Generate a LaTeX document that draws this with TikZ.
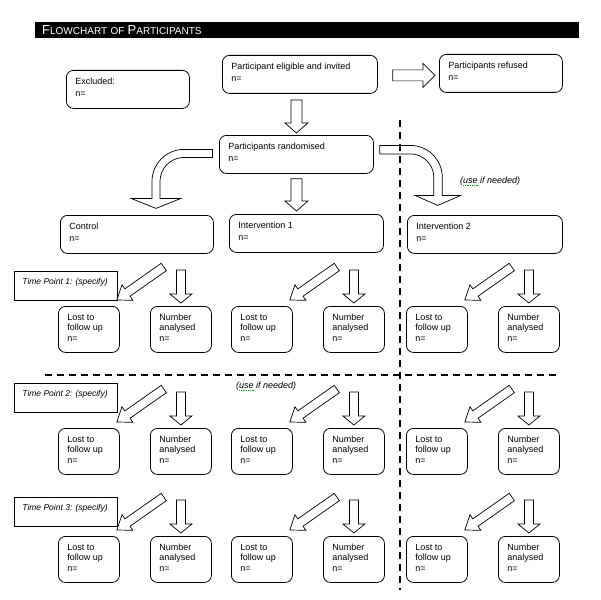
\documentclass[tikz,border=0pt]{standalone}
\usepackage{fontspec}
\setmainfont{Liberation Sans}
\usetikzlibrary{calc}

\newcommand{\versal}[1]{{\fontsize{10}{10}\selectfont #1}}
% flecha gruesa: cola, punta, medio cuerpo, media cabeza, largo cabeza
\newcommand{\flechagorda}[5]{%
  \coordinate (fg) at ($(#2)!#5!(#1)$);
  \draw[flecha] ($(#1)!#3!90:(#2)$) -- ($(fg)!#3!90:(#2)$) -- ($(fg)!#4!90:(#2)$) -- (#2)
    -- ($(fg)!#4!-90:(#2)$) -- ($(fg)!#3!-90:(#2)$) -- ($(#1)!#3!-90:(#2)$) -- cycle;}

\tikzset{
  caja/.style={draw, rounded corners=7pt, line width=0.8pt, anchor=north west,
    inner xsep=9pt, inner ysep=7.5pt, font=\fontsize{9}{10}\selectfont},
  etiqueta/.style={draw, line width=0.8pt, anchor=north west, inner xsep=8pt,
    inner ysep=6.5pt, font=\fontsize{8.5}{10}\selectfont\itshape},
  titulo/.style={fill=black, text=white, anchor=north west, inner xsep=7pt,
    inner ysep=0pt, text width=530pt, minimum height=16pt},
  flecha/.style={draw, fill=white, line width=0.7pt, line join=miter},
  corte/.style={line width=2pt, dash pattern=on 7pt off 5pt},
  nota/.style={anchor=west, inner sep=0pt, font=\fontsize{9}{10}\selectfont\itshape}
}

\begin{document}
\begin{tikzpicture}[x=1pt, y=-1pt]
    \useasboundingbox (0,0) rectangle (601,599);
    % Titulo
    \node[titulo] (titulo) at (35,22) {\fontsize{13}{13}\selectfont F\versal{LOWCHART OF }P\versal{ARTICIPANTS}};
    % Cajas de arriba
    \node[caja] (excl) at (66,70) {\parbox[c][23pt][t]{105pt}{Excluded:\\[2pt]n=}};
    \node[caja] (elig) at (222,55) {\parbox[c][23pt][t]{137pt}{Participant eligible and invited\\[2pt]n=}};
    \node[caja] (refus) at (439,54) {\parbox[c][23pt][t]{105pt}{Participants refused\\[2pt]n=}};
    \node[caja] (rand) at (219,135) {\parbox[c][23pt][t]{136pt}{Participants randomised\\[2pt]n=}};
    % Grupos
    \node[caja] (ctrl) at (60,215) {\parbox[c][23pt][t]{135pt}{Control\\[2pt]n=}};
    \node[caja] (intA) at (229,214) {\parbox[c][23pt][t]{136pt}{Intervention 1\\[2pt]n=}};
    \node[caja] (intB) at (407,215) {\parbox[c][23pt][t]{137pt}{Intervention 2\\[2pt]n=}};
    \node[nota] (uso1) at (460,181) {(use if needed)};
    \node[nota] (uso2) at (236,386) {(use if needed)};
    \draw[green!60!black, densely dotted, line width=0.8pt] ($(uso1.west)+(3,4.5)$) -- ++(15,0);
    \draw[green!60!black, densely dotted, line width=0.8pt] ($(uso2.west)+(3,4.5)$) -- ++(15,0);
    % Flechas de arriba
    \coordinate (cola) at ($(elig.east)+(15,1)$);
    \coordinate (punta) at ($(refus.west)+(-4,2)$);
    \flechagorda{cola}{punta}{5.5pt}{12pt}{12pt}
    \coordinate (cola) at ($(rand.north)+(0,-35)$);
    \coordinate (punta) at ($(rand.north)+(0,-2)$);
    \flechagorda{cola}{punta}{5.5pt}{11.5pt}{10pt}
    \coordinate (cola) at ($(rand.south)+(0,5)$);
    \coordinate (punta) at ($(rand.south |- intA.north)+(0,-3)$);
    \flechagorda{cola}{punta}{5.5pt}{11.5pt}{10pt}
    % Flechas curvas
    \draw[flecha] ($(rand.west)+(-6.5,-5)$) -- ++(-28.5,0) arc[start angle=90, end angle=180, radius=32pt]
      -- ++(0,17) -- ++(-21,0) -- ++(25,10) -- ++(25,-10) -- ++(-21,0) -- ++(0,-17)
      arc[start angle=180, end angle=90, radius=24pt] -- ++(28.5,0) -- cycle;
    \draw[flecha] ($(rand.east)+(6,-9)$) -- ++(30.5,0) arc[start angle=90, end angle=0, radius=32pt]
      -- ++(0,18) -- ++(18.5,0) -- ++(-23,10) -- ++(-23,-10) -- ++(19,0) -- ++(0,-18)
      arc[start angle=0, end angle=90, radius=23.5pt] -- ++(-30.5,0) -- cycle;
    % Puntos de tiempo
    \foreach \fila/\ya/\yt in {1/306/271, 2/428/383, 3/536/497}{
      \node[etiqueta] (tp\fila) at (14,\yt) {\parbox[c][16pt][t]{87pt}{Time Point \fila: (specify)}};
      \foreach \col/\xa in {A/58, B/231, C/406}{
        \node[caja] (lost\col\fila) at (\xa,\ya) {\parbox[c][31pt][t]{43pt}{Lost to\\follow up\\[1.5pt]n=}};
        \node[caja] (num\col\fila) at (\xa+92,\ya) {\parbox[c][31pt][t]{43pt}{Number\\analysed\\[1.5pt]n=}};
        \coordinate (cola) at ($(lost\col\fila.north east)+(44,-39)$);
        \coordinate (punta) at ($(lost\col\fila.north east)+(-3,-6)$);
        \flechagorda{cola}{punta}{4.5pt}{9.5pt}{13pt}
        \coordinate (cola) at ($(num\col\fila.north)+(0,-36)$);
        \coordinate (punta) at ($(num\col\fila.north)+(0,-3)$);
        \flechagorda{cola}{punta}{4.5pt}{11pt}{9pt}
      }
    }
    % Lineas de corte
    \draw[corte] (400,120) -- (400,590);
    \draw[corte] (45,375) -- (558,375);
\end{tikzpicture}
\end{document}
